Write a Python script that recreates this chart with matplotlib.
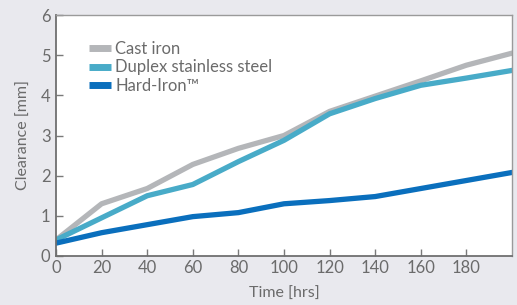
import matplotlib.pyplot as plt

# data
hours = [0, 20, 40, 60, 80, 100, 120, 140, 160, 180, 200]
cast_iron = [0.4, 1.3, 1.68, 2.28, 2.68, 3.0, 3.6, 3.98, 4.36, 4.75, 5.05]
duplex = [0.4, 0.95, 1.5, 1.78, 2.35, 2.88, 3.54, 3.92, 4.25, 4.43, 4.62]
hard_iron = [0.32, 0.58, 0.78, 0.98, 1.08, 1.3, 1.38, 1.48, 1.68, 1.88, 2.08]

xticks = [0, 20, 40, 60, 80, 100, 120, 140, 160, 180]
yticks = [0, 1, 2, 3, 4, 5, 6]

plt.rcParams['font.family'] = ['Lato', 'DejaVu Sans']

fig = plt.figure(figsize=(5.17, 3.05), dpi=100, facecolor='#e9e9ee')
ax = fig.add_axes([56 / 517, 1 - 256 / 305, (512 - 56) / 517, (256 - 15) / 305])
ax.set_facecolor('white')

lw = 3.8
ax.plot(hours, cast_iron, color='#b4b6b9', lw=lw, label='Cast iron', solid_joinstyle='round')
ax.plot(hours, duplex, color='#48abc8', lw=lw, label='Duplex stainless steel', solid_joinstyle='round')
ax.plot(hours, hard_iron, color='#0a6fbd', lw=lw, label='Hard-Iron\u2122', solid_joinstyle='round')

ax.set_xlim(0, 200)
ax.set_ylim(0, 6)
ax.set_xticks(xticks)
ax.set_yticks(yticks)

txt = '#6b6b6b'
ax.tick_params(direction='in', length=5, width=1, colors='#7a7a7a', labelcolor=txt,
               labelsize=12)
ax.tick_params(axis='x', pad=3)
ax.tick_params(axis='y', pad=4)
for s in ['left', 'bottom']:
    ax.spines[s].set_color('#6f6f6f')
    ax.spines[s].set_linewidth(1.3)
for s in ['top', 'right']:
    ax.spines[s].set_color('#9a9a9a')
    ax.spines[s].set_linewidth(1.0)

ax.set_xlabel('Time [hrs]', color=txt, fontsize=11.5, labelpad=8)
ax.set_ylabel('Clearance [mm]', color=txt, fontsize=11.5, labelpad=7)

leg = ax.legend(loc='upper left', bbox_to_anchor=(0.04, 0.955), frameon=False,
                fontsize=12, handlelength=1.3, handletextpad=0.25, labelspacing=0.15,
                labelcolor=txt)
for h in leg.get_lines():
    h.set_linewidth(5)
    h.set_solid_capstyle('butt')

fig.savefig('out.png', dpi=100, facecolor=fig.get_facecolor())
